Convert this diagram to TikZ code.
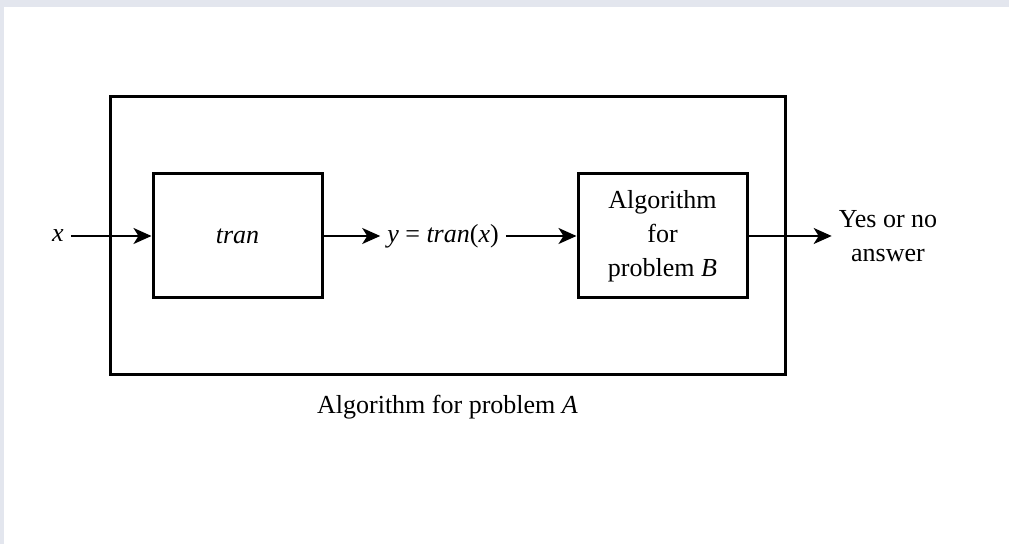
\documentclass[tikz,border=0pt]{standalone}
\usepackage{fontspec}
\setmainfont{Liberation Serif}
\usepackage{tikz}
\usetikzlibrary{arrows.meta}
\definecolor{pageframe}{RGB}{227,230,238}
\tikzset{flow/.style={-{Stealth[length=9pt,width=8pt,inset=2.5pt]},line width=1pt},
 every node/.style={font=\fontsize{13}{17}\selectfont}}
\begin{document}
\begin{tikzpicture}[x=0.5pt,y=-0.5pt,
 box/.style={draw,line width=1.5pt,align=center,minimum width=84.5pt,minimum height=62pt,inner sep=2pt}]
\useasboundingbox (0,0) rectangle (1009,544);
\fill[pageframe] (0,0) rectangle (1009,544);
\fill[white] (4,7) rectangle (1009,544);
\node[draw,line width=1.5pt,minimum width=337.5pt,minimum height=139pt] (A) at (447.5,236) {};
\node[below=6pt] (Alabel) at (A.south) {Algorithm for problem \textit{A}};
\node[box] (T) at (237.5,236) {\textit{tran}};
\node[box] (B) at (662.5,236) {Algorithm\\for\\problem \textit{B}};
\node (x) at (58,236) {\textit{x}};
\node (y) at (443,236) {\textit{y} = \textit{tran}(\textit{x})};
\node[align=center] (ans) at (888,236) {Yes or no\\answer};
\draw[flow] (x.east) -- (T.west);
\draw[flow] (T.east) -- (y.west);
\draw[flow] (y.east) -- (B.west);
\draw[flow] (B.east) -- (ans.west);
\end{tikzpicture}
\end{document}
